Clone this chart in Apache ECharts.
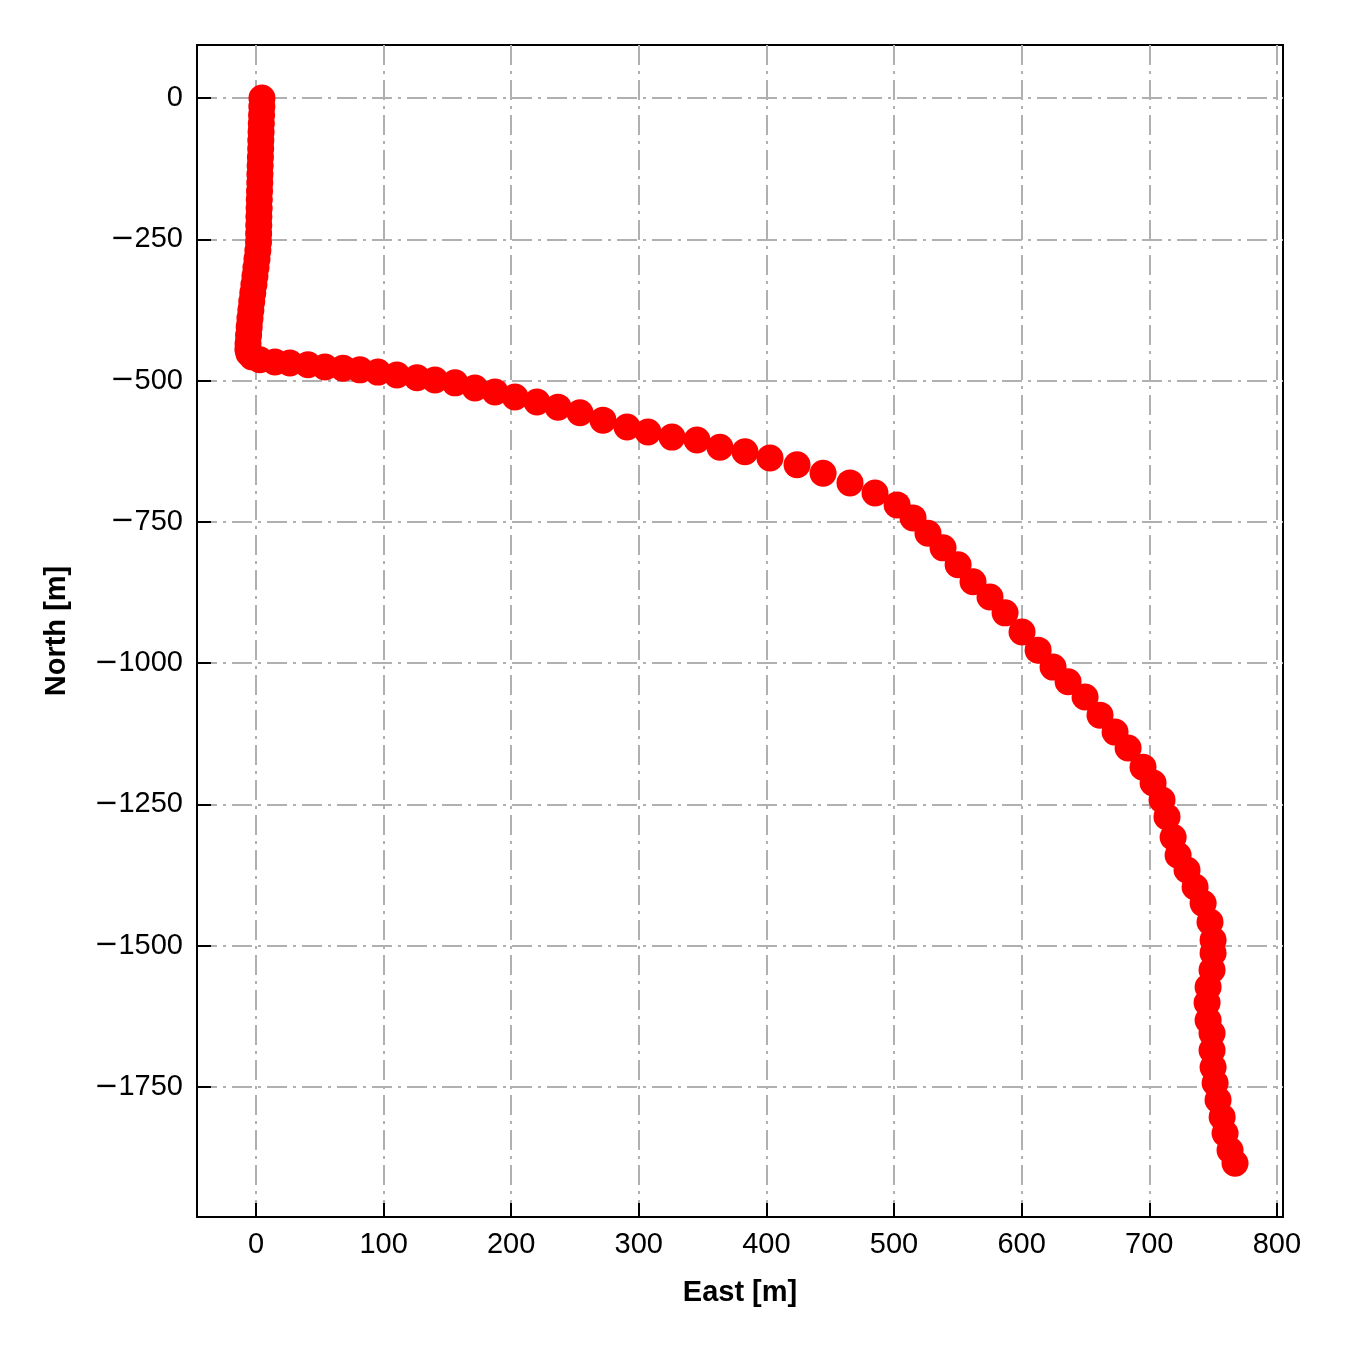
<!DOCTYPE html>
<html>
<head>
<meta charset="utf-8">
<script src="https://cdn.jsdelivr.net/npm/echarts@6/dist/echarts.min.js"></script>
<style>html,body{margin:0;padding:0;background:#fff}#c{width:1350px;height:1350px}</style>
</head>
<body>
<div id="c"></div>
<script>
const eastValues = [4.7,4.6,4.4,4.2,4.0,3.8,3.7,3.5,3.3,3.1,3.0,2.8,2.6,2.5,2.3,2.2,2.1,2.0,1.5,0.8,0.0,-0.8,-1.6,-2.5,-3.3,-4.0,-4.7,-5.3,-5.8,-6.2,-6.3,-5.5,-3.0,3.0,
  14.9,26.6,40.8,54.1,68.2,81.5,95.6,110.5,126.2,140.3,156.0,171.6,187.3,203.0,220.2,236.7,253.9,271.9,290.8,307.2,326.0,345.6,363.6,383.2,402.8,424.0,444.4,465.5,485.1,502.4,514.9,526.6,538.4,550.2,561.9,575.2,587.0,600.3,612.9,624.6,636.4,649.7,661.4,673.2,683.4,695.1,703.0,710.0,713.9,718.7,722.6,729.6,735.9,742.2,747.6,750.0,750.0,749.2,746.1,745.3,746.1,749.2,749.2,750.0,751.6,753.9,757.1,759.4,763.3,767.2];
const northValues = [0,-15,-30,-45,-60,-75,-90,-105,-120,-135,-150,-165,-180,-195,-210,-225,-240,-255,-270,-285,-300,-315,-330,-345,-360,-375,-390,-405,-420,-435,-445,-452,-458,-463,
  -467,-469,-472,-476,-478,-481,-485,-490,-495,-499,-504,-513,-520,-529,-538,-547,-557,-570,-582,-591,-600,-605,-618,-626,-637,-649,-664,-681,-699,-720,-743,-770,-796,-826,-856,-883,-911,-945,-977,-1007,-1033,-1060,-1092,-1122,-1150,-1184,-1212,-1242,-1272,-1308,-1340,-1366,-1396,-1425,-1458,-1490,-1513,-1543,-1573,-1601,-1632,-1655,-1685,-1715,-1743,-1773,-1803,-1832,-1862,-1885];
const xTicks = [0,100,200,300,400,500,600,700,800];
const yTicks = [0,-250,-500,-750,-1000,-1250,-1500,-1750];

const points = eastValues.map((e,i)=>[e,northValues[i]]);
const fmt = v => v < 0 ? '{m|\u2212}' + String(-v) : String(v);
const FONT = 'Liberation Sans, Arial, sans-serif';
const richMinus = {m:{fontFamily:'DejaVu Sans', fontSize:29, color:'#000'}};
const chart = echarts.init(document.getElementById('c'));
const splitStyle = {show:true, lineStyle:{color:'#b0b0b0', width:2, type:[20,6,3,6]}};
chart.setOption({
  animation:false,
  backgroundColor:'#fff',
  grid:{left:197, right:67, top:45, bottom:133, show:true, borderColor:'#000', borderWidth:2, backgroundColor:'transparent'},
  xAxis:{type:'value', min:-46.2, max:804.8,
    name:'East [m]', nameLocation:'middle', nameGap:61,
    nameTextStyle:{fontFamily:FONT, fontWeight:'bold', fontSize:29, color:'#000'},
    axisLine:{show:true, onZero:false, lineStyle:{color:'#000', width:2}},
    axisTick:{show:true, inside:true, length:14, lineStyle:{color:'#000', width:2}, customValues:xTicks},
    axisLabel:{show:true, margin:13, fontFamily:FONT, fontSize:29, color:'#000', customValues:xTicks, formatter:fmt, rich:richMinus},
    splitLine:splitStyle},
  yAxis:{type:'value', min:-1980, max:93.8,
    name:'North [m]', nameLocation:'middle', nameGap:126, nameRotate:90,
    nameTextStyle:{fontFamily:FONT, fontWeight:'bold', fontSize:29, color:'#000'},
    axisLine:{show:true, onZero:false, lineStyle:{color:'#000', width:2}},
    axisTick:{show:true, inside:true, length:14, lineStyle:{color:'#000', width:2}, customValues:yTicks},
    axisLabel:{show:true, margin:14, fontFamily:FONT, fontSize:29, color:'#000', customValues:yTicks, formatter:fmt, rich:richMinus},
    splitLine:splitStyle},
  series:[{type:'scatter', data:points, symbol:'circle', symbolSize:27,
    itemStyle:{color:'#ff0000', opacity:1}, silent:true}]
});
</script>
</body>
</html>
